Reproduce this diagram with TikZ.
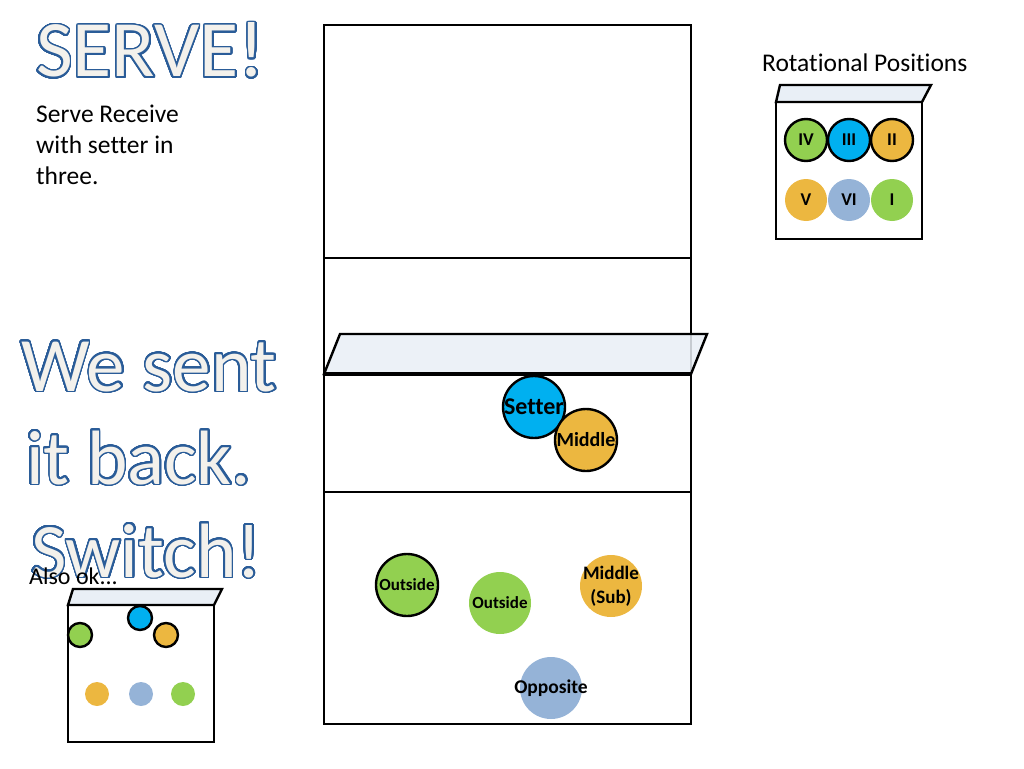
\documentclass[tikz,border=0pt]{standalone}
\usepackage{fontspec}
\setmainfont{Carlito}[Ligatures={NoCommon}]
\usepackage[copies]{contour}
\contourlength{1.6pt}
\contournumber{48}
\definecolor{cgreen}{HTML}{92D050}
\definecolor{cblue}{HTML}{00B0F0}
\definecolor{corange}{HTML}{ECB740}
\definecolor{cgray}{HTML}{95B3D7}
\definecolor{netfill}{HTML}{E9EFF6}
\definecolor{olblue}{HTML}{2A5C98}
\definecolor{cream}{HTML}{F3F1EC}
\tikzset{
  line/.style={line width=2.4pt, draw=black},
  player/.style={circle, minimum size=62pt, inner sep=0pt},
  ptext/.style={inner sep=0pt, align=center, font=\bfseries\fontsize{17}{19}\selectfont},
  ringed/.style={draw=black, line width=2.4pt},
  rot/.style={circle, minimum size=42pt, inner sep=0pt, font=\bfseries\fontsize{18}{20}\selectfont},
  dot/.style={circle, minimum size=24pt, inner sep=0pt},
  plain/.style={anchor=base west, inner sep=0pt, font=\fontsize{25.5}{28}\selectfont},
  big/.style={anchor=base west, inner sep=0pt},
}
\newcommand{\outl}[2]{\contour{olblue}{\textcolor{cream}{\fontsize{#1}{#1}\selectfont #2}}}
\begin{document}
\begin{tikzpicture}[x=1pt,y=-1pt]
\useasboundingbox (0,0) rectangle (1024,768);
% titles
\node[big] (serve) at (36,77) {\outl{80}{SERVE!}};
\node[plain] (t1) at (36,122) {Serve Receive};
\node[plain] (t2) at (36,153) {with setter in};
\node[plain] (t3) at (36,184) {three.};
\node[big] (w1) at (21,391) {\outl{77}{We sent}};
\node[big] (w2) at (26,484) {\outl{77}{it back.}};
\node[big] (w3) at (31,577) {\outl{77}{Switch!}};
\node[plain, font=\fontsize{24}{28}\selectfont] (also) at (29,584) {Also ok...};
% court
\draw[line] (324,25) rectangle (691,724);
\coordinate (l1a) at (324,258); \coordinate (l1b) at (691,258);
\coordinate (l3a) at (324,492); \coordinate (l3b) at (691,492);
\draw[line] (l1a) -- (l1b);
\draw[line] (l3a) -- (l3b);
% net
\coordinate (n1) at (340,334); \coordinate (n2) at (707,334);
\coordinate (n3) at (691,374); \coordinate (n4) at (324,374);
\draw[line, fill=netfill, fill opacity=0.85] (n1) -- (n2) -- (n3) -- (n4) -- cycle;
\draw[line width=4pt] (n4) -- (n3);
% front row players
\node[player, ringed, fill=cblue] (setter) at (534,407) {};
\node[ptext, font=\bfseries\fontsize{24}{26}\selectfont] (setterl) at (setter) {Setter};
\node[player, ringed, fill=corange] (middle) at (586,440) {};
\node[ptext, font=\bfseries\fontsize{20}{22}\selectfont] (middlel) at (middle) {Middle};
% back players
\node[player, ringed, fill=cgreen] (out1) at (407,585) {};
\node[ptext] (out1l) at (out1) {Outside};
\node[player, fill=cgreen] (out2) at (500,603) {};
\node[ptext] (out2l) at (out2) {Outside};
\node[player, fill=corange] (msub) at (611,586) {};
\node[ptext, font=\bfseries\fontsize{19}{24}\selectfont] (msubl) at (msub) {Middle\\(Sub)};
\node[player, fill=cgray] (opp) at (551,688) {};
\node[ptext, font=\bfseries\fontsize{19.5}{21}\selectfont] (oppl) at (opp) {Opposite};
% rotational positions
\node[plain] (rp) at (762,71) {Rotational Positions};
\draw[line] (776,102) rectangle (922,239);
\coordinate (r1) at (780,85); \coordinate (r2) at (931,85);
\coordinate (r3) at (922,102); \coordinate (r4) at (776,102);
\draw[line, fill=netfill] (r1) -- (r2) -- (r3) -- (r4) -- cycle;
\node[rot, ringed, fill=cgreen] (p4) at (806,140) {IV};
\node[rot, ringed, fill=cblue] (p3) at (849,140) {III};
\node[rot, ringed, fill=corange] (p2) at (892,140) {II};
\node[rot, fill=corange] (p5) at (806,200) {V};
\node[rot, fill=cgray] (p6) at (849,200) {VI};
\node[rot, fill=cgreen] (p1) at (892,200) {I};
% also ok box
\draw[line] (68,605) rectangle (214,742);
\coordinate (a1) at (73,589); \coordinate (a2) at (222,589);
\coordinate (a3) at (214,605); \coordinate (a4) at (68,605);
\draw[line, fill=netfill] (a1) -- (a2) -- (a3) -- (a4) -- cycle;
\node[dot, ringed, fill=cblue] (s1) at (140,618) {};
\node[dot, ringed, fill=cgreen] (s2) at (80,635) {};
\node[dot, ringed, fill=corange] (s3) at (166,635) {};
\node[dot, fill=corange] (s4) at (97,694) {};
\node[dot, fill=cgray] (s5) at (141,694) {};
\node[dot, fill=cgreen] (s6) at (183,694) {};
\end{tikzpicture}
\end{document}
